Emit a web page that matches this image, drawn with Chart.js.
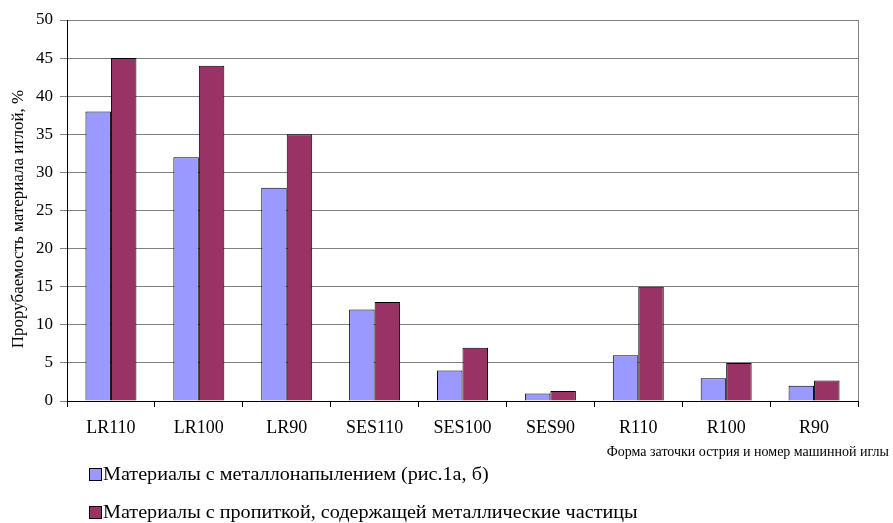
<!DOCTYPE html>
<html>
<head>
<meta charset="utf-8">
<script src="https://cdn.jsdelivr.net/npm/chart.js@4/dist/chart.umd.min.js"></script>
<style>
  html, body { margin: 0; padding: 0; background: #fff; }
  #wrap { width: 893px; height: 523px; }
</style>
</head>
<body>
<div id="wrap"><canvas id="c" width="893" height="523"></canvas></div>
<script>
// Needle point shapes / machine needle numbers
const categories = ['LR110', 'LR100', 'LR90', 'SES110', 'SES100', 'SES90', 'R110', 'R100', 'R90'];
// Puncture of material by the needle, %
const sprayedValues = [38, 32, 28, 12, 4, 1, 6, 3, 2];
const impregnatedValues = [45, 44, 35, 13, 7, 1.3, 15, 5, 2.7];
const yTicks = [0, 5, 10, 15, 20, 25, 30, 35, 40, 45, 50];

const seriesNames = [
  'Материалы с металлонапылением (рис.1а, б)',
  'Материалы с пропиткой, содержащей металлические частицы'
];
const xTitle = 'Форма заточки острия и номер машинной иглы';
const yTitle = 'Прорубаемость материала иглой, %';

const FONT = '"Liberation Serif", "Times New Roman", serif';

// Right frame line, axis captions and the stacked legend
const extras = {
  id: 'extras',
  afterDraw(chart) {
    const { ctx, chartArea } = chart;
    ctx.save();
    ctx.strokeStyle = '#808080';
    ctx.lineWidth = 1;
    ctx.beginPath();
    ctx.moveTo(chartArea.right + 0.5, chartArea.top);
    ctx.lineTo(chartArea.right + 0.5, chartArea.bottom);
    ctx.stroke();

    // x-axis caption, right-aligned under the plot
    ctx.fillStyle = '#000';
    ctx.font = '14px ' + FONT;
    ctx.textAlign = 'right';
    ctx.textBaseline = 'middle';
    ctx.fillText(xTitle, 889, 452);

    // y-axis caption, rotated
    ctx.save();
    ctx.translate(19, 219);
    ctx.rotate(-Math.PI / 2);
    ctx.textAlign = 'center';
    ctx.font = '17px ' + FONT;
    ctx.fillText(yTitle, 0, 0);
    ctx.restore();

    // legend, one series per row
    const rows = [475, 513];
    chart.data.datasets.forEach((ds, i) => {
      const y = rows[i];
      ctx.fillStyle = ds.backgroundColor;
      ctx.fillRect(89.5, y - 6.5, 12, 12);
      ctx.strokeStyle = '#000';
      ctx.lineWidth = 1;
      ctx.strokeRect(89.5, y - 6.5, 12, 12);
      ctx.save();
      ctx.translate(103, y);
      ctx.scale(1.12, 1);
      ctx.fillStyle = '#000';
      ctx.font = '18px ' + FONT;
      ctx.textAlign = 'left';
      ctx.textBaseline = 'middle';
      ctx.fillText(ds.label, 0, 0);
      ctx.restore();
    });
    ctx.restore();
  }
};

new Chart(document.getElementById('c'), {
  type: 'bar',
  data: {
    labels: categories,
    datasets: [
      { label: seriesNames[0], data: sprayedValues, backgroundColor: '#9999FF', borderColor: '#000', borderWidth: 1 },
      { label: seriesNames[1], data: impregnatedValues, backgroundColor: '#993366', borderColor: '#000', borderWidth: 1 }
    ]
  },
  options: {
    responsive: false,
    animation: false,
    devicePixelRatio: 1,
    layout: { padding: { top: 20, right: 35, left: 0, bottom: 0 } },
    datasets: { bar: { categoryPercentage: 0.58, barPercentage: 1 } },
    plugins: {
      legend: { display: false },
      tooltip: { enabled: false }
    },
    scales: {
      x: {
        afterFit(s) { s.height = 122; },
        grid: { offset: true, drawOnChartArea: false, drawTicks: true, tickLength: 6, color: '#000' },
        border: { color: '#000' },
        ticks: { color: '#000', font: { family: FONT, size: 18 }, padding: 10, maxRotation: 0 }
      },
      y: {
        min: 0, max: 50,
        afterFit(s) { s.width = 67; },
        afterBuildTicks(s) { s.ticks = yTicks.map(v => ({ value: v })); },
        grid: { color: '#808080', tickLength: 7, lineWidth: 1 },
        border: { color: '#000' },
        ticks: { color: '#000', font: { family: FONT, size: 17 }, padding: 7 }
      }
    }
  },
  plugins: [extras]
});
</script>
</body>
</html>
